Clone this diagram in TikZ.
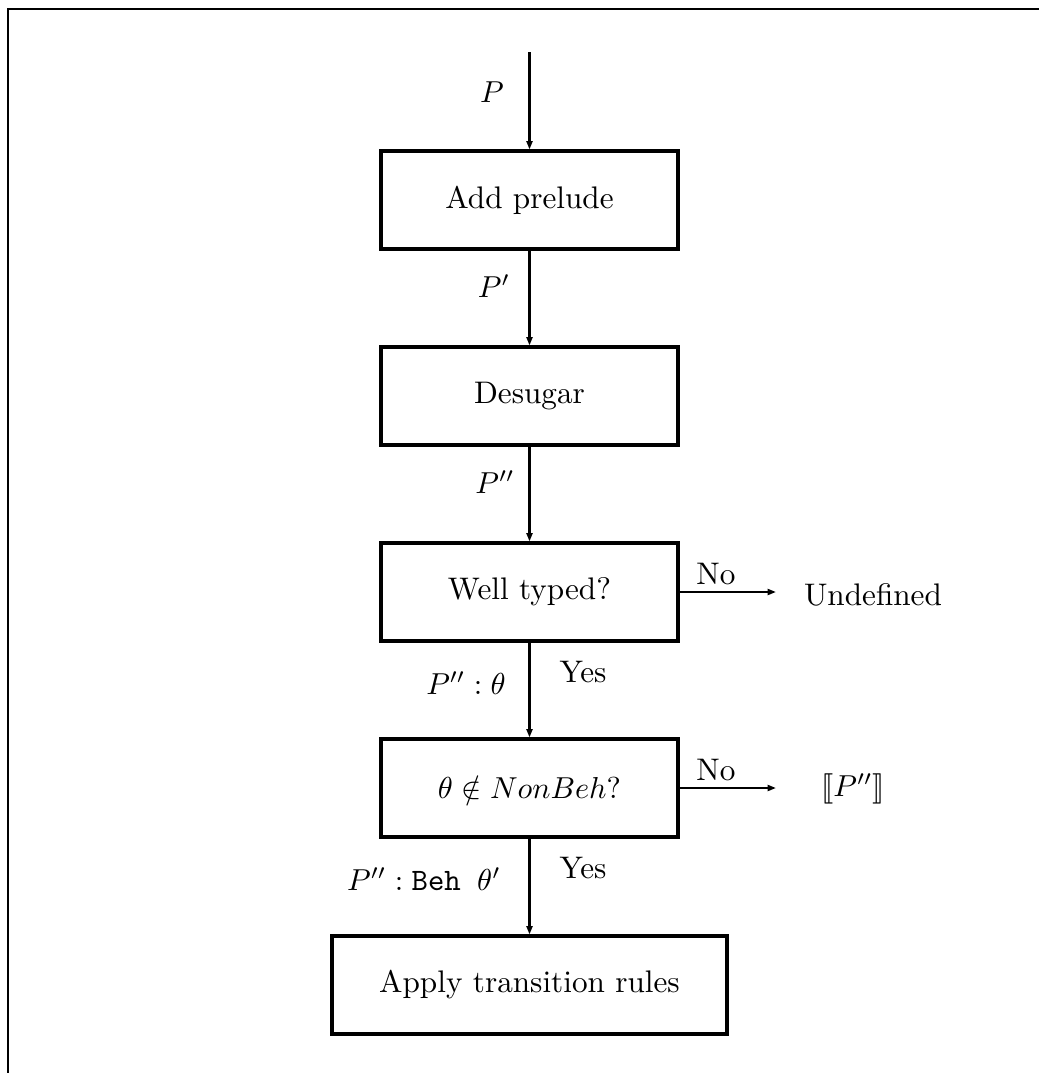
\documentclass[tikz,border=0pt]{standalone}
\usepackage{stmaryrd}
\usetikzlibrary{arrows.meta}
\begin{document}
\begin{tikzpicture}[x=0.33pt,y=-0.33pt,
  font=\fontsize{10.3}{12}\selectfont,
  stage/.style={draw,line width=1.0pt,minimum width=297*0.33pt,minimum height=98*0.33pt,inner sep=0pt},
  flow/.style={line width=0.9pt,-{Triangle[length=2.8pt,width=2pt]}},
  branch/.style={line width=0.75pt,-{Triangle[length=2.8pt,width=2pt]}},
  lbl/.style={inner sep=0pt}]
  % page area and the open frame on its top and left
  \useasboundingbox (0,0) rectangle (1039,1073);
  \draw[line width=0.85pt] (8,1073) -- (8,9) -- (1039,9);

  % processing stages
  \node[stage] (add) at (529.5,200) {Add prelude};
  \node[stage] (des) at (529.5,396) {Desugar};
  \node[stage] (typ) at (529.5,592) {Well typed?};
  \node[stage] (beh) at (529.5,788) {$\theta\notin NonBeh?$};
  \node[stage,minimum width=395*0.33pt] (app) at (529.5,985) {Apply transition rules};

  % outcomes
  \coordinate (in) at (529.5,52);
  \node[lbl] (undef) at (873,595) {Undefined};
  \node[lbl] (sem) at (853,789) {$\llbracket P''\rrbracket$};
  \coordinate (undefin) at (776,592);
  \coordinate (semin) at (776,788);

  % main flow
  \draw[flow] (in) -- (add.north);
  \draw[flow] (add) -- (des);
  \draw[flow] (des) -- (typ);
  \draw[flow] (typ) -- (beh);
  \draw[flow] (beh) -- (app);

  % rejections
  \draw[branch] (typ.east) -- (undefin);
  \draw[branch] (beh.east) -- (semin);

  % edge labels
  \node[lbl] at (492,92) {$P$};
  \node[lbl] at (494,286) {$P'$};
  \node[lbl] at (495,482) {$P''$};
  \node[lbl] at (466,683) {$P'' : \theta$};
  \node[lbl] at (424,879) {$P'' : \texttt{Beh\ }\theta'$};
  \node[lbl] at (583,672) {Yes};
  \node[lbl] at (583,868) {Yes};
  \node[lbl] at (716,574) {No};
  \node[lbl] at (716,770) {No};
\end{tikzpicture}
\end{document}
